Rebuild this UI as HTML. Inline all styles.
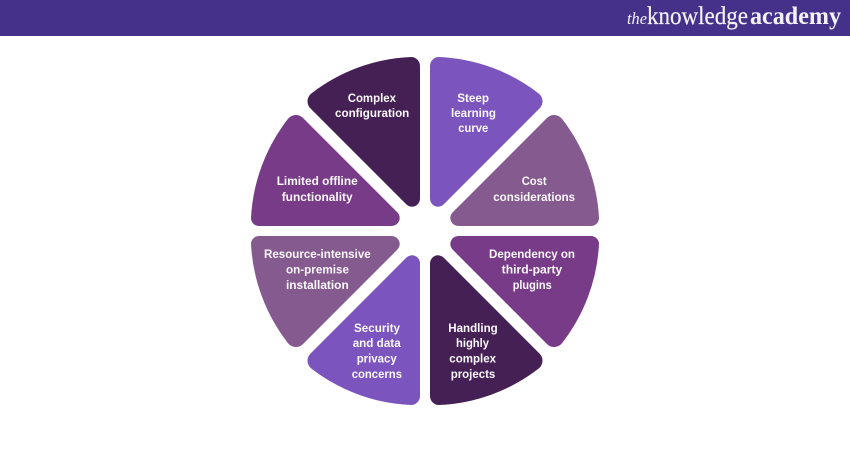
<!DOCTYPE html>
<html lang="en">
<head>
<meta charset="utf-8">
<title>Diagram</title>
<style>
html,body{margin:0;padding:0;background:#fff;width:850px;height:450px;overflow:hidden}
svg{display:block}
.l text{font-family:"Liberation Sans",sans-serif;font-weight:700;font-size:12px;fill:#fbf8fc}
.logo{font-family:"Liberation Serif",serif;fill:#f4f2f8}
</style>
</head>
<body>
<svg xmlns="http://www.w3.org/2000/svg" width="850" height="450" viewBox="0 0 850 450">
<rect width="850" height="450" fill="#fff"/>
<rect width="850" height="36" fill="#45318a"/>
<text class="logo" x="627" y="24" font-size="17" font-style="italic" textLength="20" lengthAdjust="spacingAndGlyphs">the</text>
<text class="logo" x="647" y="24" font-size="25" stroke="#f4f2f8" stroke-width="0.2" textLength="101" lengthAdjust="spacingAndGlyphs">knowledge</text>
<text class="logo" x="750" y="24" font-size="25" font-weight="700" textLength="91" lengthAdjust="spacingAndGlyphs">academy</text>

<defs>
<path id="a" d="M430 66A9 9 0 0 1 439 57A175 175 0 0 1 538.88 93.66A10 10 0 0 1 539.57 108.43L443.66 204.35A8 8 0 0 1 430 198.69Z"/>
<path id="b" d="M547.07 117.93A10 10 0 0 1 561.87 118.66A176 176 0 0 1 599 218A8 8 0 0 1 591 226L458.31 226A8 8 0 0 1 452.65 212.34Z"/>
</defs>

<use href="#a" fill="#7b55bd"/>
<use href="#b" fill="#855b8f"/>
<use href="#b" fill="#773b88" transform="matrix(1 0 0 -1 0 462)"/>
<use href="#a" fill="#452055" transform="matrix(1 0 0 -1 0 462)"/>
<use href="#a" fill="#7b55bd" transform="matrix(-1 0 0 -1 850 462)"/>
<use href="#b" fill="#855b8f" transform="matrix(-1 0 0 -1 850 462)"/>
<use href="#b" fill="#773b88" transform="matrix(-1 0 0 1 850 0)"/>
<use href="#a" fill="#452055" transform="matrix(-1 0 0 1 850 0)"/>

<g class="l">
<text x="347.7" y="102" textLength="48.3" lengthAdjust="spacingAndGlyphs">Complex</text>
<text x="335" y="117" textLength="74.3" lengthAdjust="spacingAndGlyphs">configuration</text>
<text x="276.7" y="185" textLength="81" lengthAdjust="spacingAndGlyphs">Limited offline</text>
<text x="281.7" y="201" textLength="71" lengthAdjust="spacingAndGlyphs">functionality</text>
<text x="457.3" y="102" textLength="31.7" lengthAdjust="spacingAndGlyphs">Steep</text>
<text x="451" y="117" textLength="45" lengthAdjust="spacingAndGlyphs">learning</text>
<text x="458.3" y="132" textLength="30" lengthAdjust="spacingAndGlyphs">curve</text>
<text x="521.7" y="185" textLength="25" lengthAdjust="spacingAndGlyphs">Cost</text>
<text x="493.3" y="201" textLength="81.7" lengthAdjust="spacingAndGlyphs">considerations</text>
<text x="264" y="258" textLength="106.7" lengthAdjust="spacingAndGlyphs">Resource-intensive</text>
<text x="286" y="273.5" textLength="63" lengthAdjust="spacingAndGlyphs">on-premise</text>
<text x="286" y="289" textLength="62.7" lengthAdjust="spacingAndGlyphs">installation</text>
<text x="354" y="332" textLength="46" lengthAdjust="spacingAndGlyphs">Security</text>
<text x="352.7" y="347" textLength="48" lengthAdjust="spacingAndGlyphs">and data</text>
<text x="356.7" y="362.5" textLength="40" lengthAdjust="spacingAndGlyphs">privacy</text>
<text x="351.7" y="378" textLength="50.3" lengthAdjust="spacingAndGlyphs">concerns</text>
<text x="489" y="258" textLength="86" lengthAdjust="spacingAndGlyphs">Dependency on</text>
<text x="501.7" y="273.5" textLength="60.6" lengthAdjust="spacingAndGlyphs">third-party</text>
<text x="512.7" y="289" textLength="39" lengthAdjust="spacingAndGlyphs">plugins</text>
<text x="448.3" y="332" textLength="49.4" lengthAdjust="spacingAndGlyphs">Handling</text>
<text x="456" y="347" textLength="33" lengthAdjust="spacingAndGlyphs">highly</text>
<text x="449.3" y="362.5" textLength="46.7" lengthAdjust="spacingAndGlyphs">complex</text>
<text x="450.7" y="378" textLength="44.6" lengthAdjust="spacingAndGlyphs">projects</text>
</g>
</svg>
</body>
</html>
